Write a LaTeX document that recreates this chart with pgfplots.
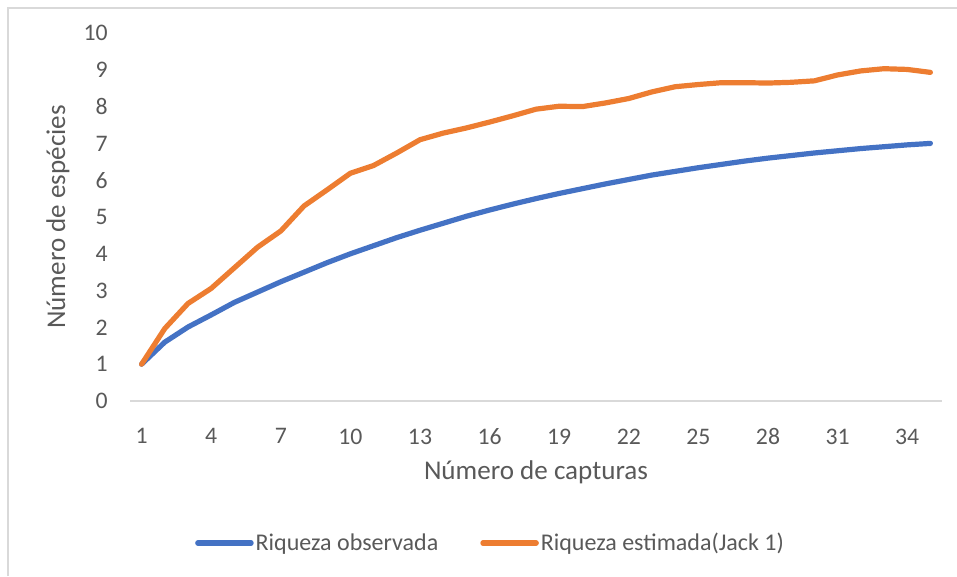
\documentclass[border=0pt]{standalone}
\usepackage{fontspec}
\setmainfont{Carlito}
\usepackage{pgfplots}
\pgfplotsset{compat=1.18}
\definecolor{obscolor}{RGB}{68,114,196}
\definecolor{jackcolor}{RGB}{237,125,49}
\definecolor{txtgray}{RGB}{89,89,89}
\definecolor{linegray}{RGB}{217,217,217}

\begin{document}
\begin{tikzpicture}
\path[use as bounding box] (0pt,0pt) rectangle (717.75pt,432pt);
\draw[linegray,line width=0.9pt] (6pt,0pt) -- (6pt,426pt) -- (720pt,426pt);
\begin{axis}[
  at={(97.5pt,131.25pt)},anchor=south west,
  scale only axis,width=609pt,height=276pt,
  xmin=0.5,xmax=35.5,ymin=0,ymax=10,
  xtick={1,4,...,34},ytick={0,1,...,10},
  axis x line=bottom,axis y line=left,
  x axis line style={-,draw=linegray,line width=1.1pt},
  y axis line style={draw=none},
  major tick length=0pt,
  /pgf/number format/assume math mode=true,
  tick label style={font=\fontsize{17.8}{20}\selectfont,text=txtgray},
  xticklabel style={inner sep=0pt,anchor=north,yshift=-20.5pt},
  yticklabel style={inner sep=0pt,anchor=east,xshift=-16.5pt},
  xlabel={Número de capturas},ylabel={Número de espécies},
  label style={font=\fontsize{20.3}{24}\selectfont,text=txtgray,inner sep=0pt},
  x label style={at={(axis description cs:0.5,-0.2120)},anchor=base},
  y label style={at={(axis description cs:-0.0800,0.5)},anchor=base,rotate=0},
  legend columns=2,
  legend style={at={(axis description cs:0.444,-0.386)},anchor=center,draw=none,fill=none,
    font=\fontsize{18}{21}\selectfont,text=txtgray,inner sep=0pt,
    nodes={inner sep=1.5pt},
    /tikz/every even column/.append style={column sep=30pt}},
  legend cell align=left,
  legend image code/.code={\draw[#1] (0pt,0pt) -- (40pt,0pt);},
  every axis plot/.append style={line width=3.9pt,line cap=round,line join=round},
]
\addplot[obscolor] coordinates {
(1,1.00) (2,1.60) (3,2.01) (4,2.34) (5,2.68) (6,2.96) (7,3.24) (8,3.50) (9,3.76) (10,4.00)
(11,4.22) (12,4.44) (13,4.64) (14,4.83) (15,5.02) (16,5.19) (17,5.35) (18,5.50) (19,5.64) (20,5.77)
(21,5.90) (22,6.02) (23,6.14) (24,6.24) (25,6.34) (26,6.43) (27,6.52) (28,6.60) (29,6.67) (30,6.74)
(31,6.80) (32,6.86) (33,6.91) (34,6.96) (35,7.00)};
\addlegendentry{Riqueza observada}
\addplot[jackcolor] coordinates {
(1,1.00) (2,1.97) (3,2.65) (4,3.06) (5,3.62) (6,4.18) (7,4.62) (8,5.30) (9,5.74) (10,6.19)
(11,6.40) (12,6.74) (13,7.10) (14,7.28) (15,7.42) (16,7.58) (17,7.75) (18,7.93) (19,8.01) (20,8.00)
(21,8.10) (22,8.22) (23,8.40) (24,8.54) (25,8.60) (26,8.65) (27,8.65) (28,8.64) (29,8.66) (30,8.70)
(31,8.86) (32,8.97) (33,9.03) (34,9.01) (35,8.93)};
\addlegendentry{Riqueza estimada(Jack 1)}
\end{axis}
\end{tikzpicture}
\end{document}
